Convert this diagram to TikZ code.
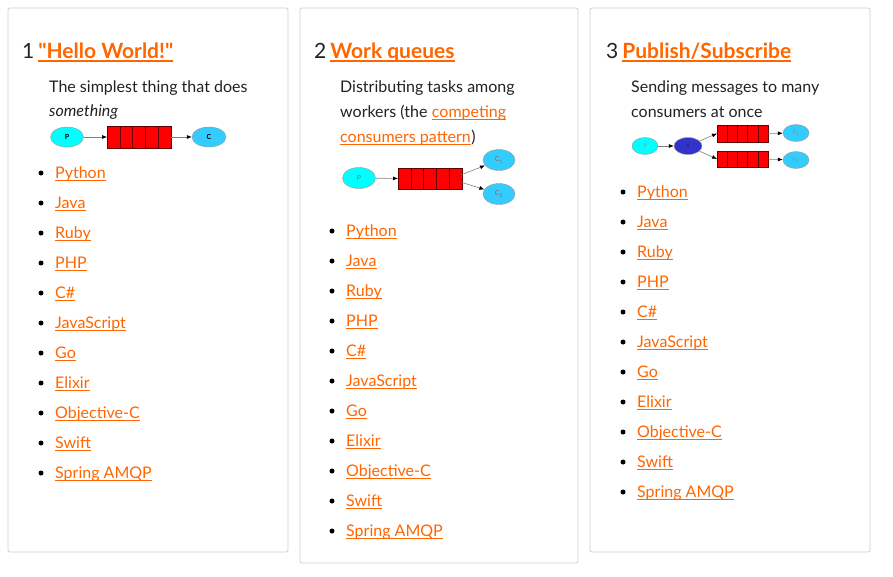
\documentclass[tikz,border=0pt]{standalone}
\usepackage{fontspec}
\setmainfont{Lato}
\newfontfamily\headfont{Lato}
\usetikzlibrary{positioning,arrows.meta,shapes.geometric}

\definecolor{linkc}{HTML}{FF6600}
\definecolor{textc}{HTML}{222222}
\definecolor{framec}{HTML}{CFCFCF}
\definecolor{prodc}{HTML}{00FFFF}
\definecolor{consc}{HTML}{33CCFF}
\definecolor{exchc}{HTML}{3333CC}
\definecolor{queuec}{HTML}{FF0000}

\tikzset{
  card/.style={draw=framec, line width=0.8pt, rounded corners=2pt, fill=white},
  head/.style={anchor=base west, inner sep=0, text=textc, font=\fontsize{21}{24}\selectfont},
  title/.style={head, text=linkc, font=\headfont\fontsize{21}{24}\selectfont\bfseries},
  txt/.style={anchor=base west, inner sep=0, text=textc, font=\fontsize{16}{19}\selectfont},
  lnk/.style={text=linkc},
  uline/.style={draw=linkc, line width=1.1pt},
  dot/.style={circle, fill=black, inner sep=0, minimum size=5pt},
  bubble/.style={ellipse, draw=gray!80, inner sep=0, font=\fontsize{7}{7}\selectfont},
  prod/.style={bubble, fill=prodc},
  cons/.style={bubble, fill=consc},
  exch/.style={bubble, fill=exchc},
  tiny/.style={font=\fontsize{5}{5}\selectfont, text=black!45},
  cell/.style={rectangle, draw=black!60!red, fill=queuec, inner sep=0, outer sep=0},
  flow/.style={draw=gray, line width=0.6pt, -{Latex[black, length=5pt, width=4pt]}}
}
% underline a link node
\newcommand{\ul}[2][2.2pt]{\draw[uline] ([yshift=-#1]#2.base west) -- ([yshift=-#1]#2.base east);}

\begin{document}
\begin{tikzpicture}[x=1pt, y=-1pt]
\fill[white] (0,0) rectangle (893,576);
\useasboundingbox (0,0) rectangle (893,576);

% cards
\draw[card] (8,8) rectangle (288,552);
\draw[card] (300,8) rectangle (578,563);
\draw[card] (590,8) rectangle (870,552);

% headings
\node[head] (n1) at (22,58) {1};
\node[title] (h1) at ([xshift=3.5pt]n1.base east) {"Hello World!"};
\node[head] (n2) at (314,58) {2};
\node[title] (h2) at ([xshift=3.5pt]n2.base east) {Work queues};
\node[head] (n3) at (606,58) {3};
\node[title] (h3) at ([xshift=3.5pt]n3.base east) {Publish/Subscribe};
\begin{scope}[uline/.append style={line width=1.6pt}]
\ul[3pt]{h1} \ul[3pt]{h2} \ul[3pt]{h3}
\end{scope}

% descriptions
\node[txt] (d1a) at (49,92) {The simplest thing that does};
\node[txt] (d1b) at (49,116.5) {\textit{something}};
\node[txt] (d2a) at (340,92) {Distributing tasks among};
\node[txt] (d2b) at (340,117) {workers (the};
\node[txt, lnk] (d2l) at ([xshift=4pt]d2b.base east) {competing};
\node[txt, lnk] (d2c) at (340,142) {consumers pattern};
\node[txt] (d2r) at (d2c.base east) {)};
\ul{d2l} \ul{d2c}
\node[txt] (d3a) at (631,92) {Sending messages to many};
\node[txt] (d3b) at (631,117) {consumers at once};

% hello world
\node[prod, minimum width=33pt, minimum height=20pt] (p1) at (67,137) {\textbf{P}};
\foreach \k in {1,...,5}
  \node[cell, minimum width=12.8pt, minimum height=22pt] (qa\k) at ({107+12.8*(\k-0.5)},137) {};
\node[cons, minimum width=34pt, minimum height=20pt] (c1) at (209,137) {\textbf{C}};
\draw[flow] (p1) -- (qa1);
\draw[flow] (qa5) -- (c1);

% work queues
\node[prod, minimum width=33pt, minimum height=21pt, text=black!55] (p2) at (359,178) {P};
\foreach \k in {1,...,5}
  \node[cell, minimum width=12.8pt, minimum height=21pt] (qb\k) at ({398+12.8*(\k-0.5)},178.5) {};
\node[cons, minimum width=32pt, minimum height=21pt, text=black!55] (c2a) at (499,160) {C\textsubscript{1}};
\node[cons, minimum width=32pt, minimum height=21pt, text=black!55] (c2b) at (499,194) {C\textsubscript{2}};
\draw[flow] (p2) -- (qb1);
\draw[flow] ([yshift=4pt]qb5.east) -- (c2a);
\draw[flow] ([yshift=-4pt]qb5.east) -- (c2b);

% publish/subscribe
\node[prod, tiny, minimum width=26pt, minimum height=17pt] (p3) at (645,146) {P};
\node[exch, tiny, minimum width=28pt, minimum height=17pt, text=black!50!exchc] (x3) at (688,146) {X};
\foreach \k in {1,...,5} {
  \node[cell, minimum width=10.2pt, minimum height=17pt] (qc\k) at ({717+10.2*(\k-0.5)},133.5) {};
  \node[cell, minimum width=10.2pt, minimum height=16pt] (qd\k) at ({717+10.2*(\k-0.5)},159) {};
}
\node[cons, tiny, minimum width=26pt, minimum height=17pt] (c3a) at (796,133) {C\textsubscript{1}};
\node[cons, tiny, minimum width=26pt, minimum height=17pt] (c3b) at (796,160) {C\textsubscript{2}};
\draw[flow] (p3) -- (x3);
\draw[flow] (x3) -- (qc1.west);
\draw[flow] (x3) -- (qd1.west);
\draw[flow] (qc5) -- (c3a);
\draw[flow] (qd5) -- (c3b);

% client lists
\foreach \bx/\by [count=\n] in {41/178, 332/236, 623/197}
  \foreach \lang [count=\i from 0] in {Python,Java,Ruby,PHP,C\#,JavaScript,Go,Elixir,Objective-C,Swift,Spring AMQP} {
    \node[dot] (b\n-\i) at (\bx,\by-5+30*\i) {};
    \node[txt, lnk] (l\n-\i) at (\bx+14,\by+30*\i) {\lang};
    \ul{l\n-\i}
  }
\end{tikzpicture}
\end{document}
